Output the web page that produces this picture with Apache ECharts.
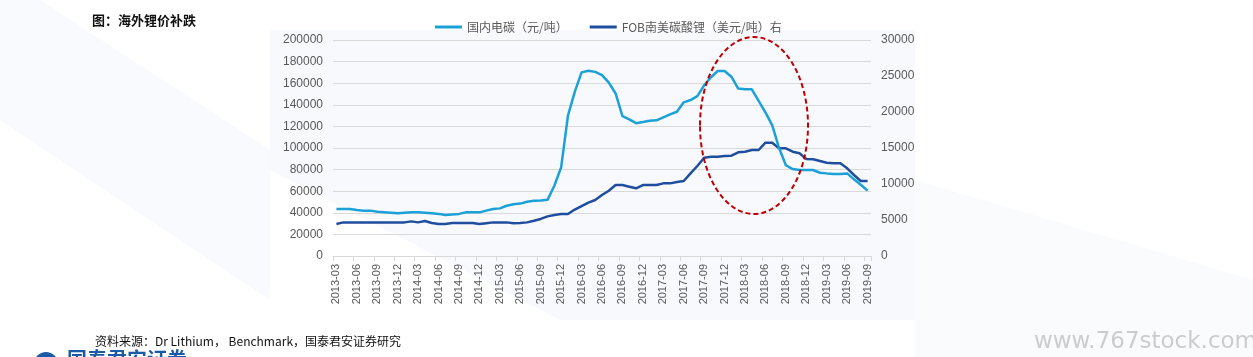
<!DOCTYPE html>
<html>
<head>
<meta charset="utf-8">
<script src="https://cdn.jsdelivr.net/npm/echarts@6/dist/echarts.min.js"></script>
<style>
html,body{margin:0;padding:0;background:#ffffff;}
#chart{width:1253px;height:357px;}
</style>
</head>
<body>
<div id="chart"></div>
<script>
// Monthly categories 2013-03 .. 2019-09
const months = [
'2013-03','2013-04','2013-05','2013-06','2013-07','2013-08','2013-09','2013-10','2013-11','2013-12',
'2014-01','2014-02','2014-03','2014-04','2014-05','2014-06','2014-07','2014-08','2014-09','2014-10','2014-11','2014-12',
'2015-01','2015-02','2015-03','2015-04','2015-05','2015-06','2015-07','2015-08','2015-09','2015-10','2015-11','2015-12',
'2016-01','2016-02','2016-03','2016-04','2016-05','2016-06','2016-07','2016-08','2016-09','2016-10','2016-11','2016-12',
'2017-01','2017-02','2017-03','2017-04','2017-05','2017-06','2017-07','2017-08','2017-09','2017-10','2017-11','2017-12',
'2018-01','2018-02','2018-03','2018-04','2018-05','2018-06','2018-07','2018-08','2018-09','2018-10','2018-11','2018-12',
'2019-01','2019-02','2019-03','2019-04','2019-05','2019-06','2019-07','2019-08','2019-09'
];

// 国内电碳（元/吨） - left axis
const domesticCarbonate = [
43500,43500,43500,42500,42000,42000,41000,40500,40000,39500,
40000,40400,40400,40000,39500,39000,38000,38500,39000,40400,40400,40400,
42000,43500,44100,46500,48000,48500,50300,51200,51500,52000,65000,82000,
130000,152000,170000,171500,170500,167500,160500,150500,129500,126500,123000,124000,
125300,125600,128400,131200,133600,142300,144400,148000,158000,165500,171300,171300,
166000,155000,154300,154300,143600,133000,121000,100000,84000,80500,79600,79600,
79600,77100,76500,76000,76000,76500,71000,66000,60500
];

// FOB南美碳酸锂（美元/吨） - right axis
const fobSouthAmerica = [
4440,4670,4670,4670,4670,4670,4670,4670,4670,4670,
4670,4810,4670,4860,4580,4440,4440,4580,4580,4580,4580,4440,
4560,4670,4670,4670,4540,4600,4670,4900,5150,5500,5700,5830,
5830,6450,6940,7410,7780,8470,9070,9860,9860,9630,9400,9860,
9860,9860,10090,10090,10280,10420,11480,12500,13650,13790,13800,13900,
13930,14400,14490,14720,14720,15740,15740,14950,14950,14490,14260,13470,
13430,13200,12960,12870,12870,12180,11250,10420,10420
];

const leftTicks = {min:0, max:200000, interval:20000};
const rightTicks = {min:0, max:30000, interval:5000};

const seriesNames = ['国内电碳（元/吨）','FOB南美碳酸锂（美元/吨）右'];
const colors = ['#1ba1d8','#1f4e9f'];

const chart = echarts.init(document.getElementById('chart'), null, {renderer:'canvas'});
const numFont = 'Liberation Sans, Arial, sans-serif';
const cjkFont = '"Noto Sans CJK SC", sans-serif';
const plain = v => String(v);

chart.setOption({
  backgroundColor:'#ffffff',
  animation:false,
  color: colors,
  graphic:[
    {type:'polygon', z:-10, silent:true, shape:{points:[[0,0],[40,0],[270,150],[270,300],[0,120]]}, style:{fill:'#f8fafd'}},
    {type:'polygon', z:-10, silent:true, shape:{points:[[270,30],[915,30],[915,320],[560,320],[270,170]]}, style:{fill:'#f7f9fd'}},
    {type:'polygon', z:-10, silent:true, shape:{points:[[915,180],[1253,280],[1253,357],[915,357]]}, style:{fill:'#f9fbfd'}},
    {type:'text', left:92, top:14, silent:true, style:{text:'图：海外锂价补跌', font:'bold 13px "Noto Sans CJK SC", sans-serif', fill:'#111111'}},
    {type:'text', left:95, top:335, silent:true, style:{text:'资料来源：Dr Lithium， Benchmark，国泰君安证券研究', font:'12px "Noto Sans CJK SC", sans-serif', fill:'#111111'}},
    {type:'circle', silent:true, shape:{cx:46, cy:364, r:12}, style:{fill:'#1a5aa6'}},
    {type:'text', left:67, top:349, silent:true, style:{text:'国泰君安证券', font:'bold 20px "Noto Sans CJK SC", sans-serif', fill:'#1a5aa6'}},
    {type:'text', left:1034, top:331, silent:true, style:{text:'www.767stock.com', font:'23px "DejaVu Sans", sans-serif', fill:'#cccccc'}},
    {type:'ellipse', silent:true, z:100, shape:{cx:754, cy:125.5, rx:54, ry:88.5}, style:{fill:'none', stroke:'#c00000', lineWidth:2, lineDash:[5,3]}}
  ],
  legend:{
    top:16, left:430,
    itemWidth:27, itemHeight:3, itemGap:22,
    icon:'rect',
    textStyle:{color:'#595959', fontSize:12, fontFamily:cjkFont},
    data: seriesNames
  },
  grid:{left:333, right:382, top:40, bottom:101, containLabel:false},
  xAxis:{
    type:'category', data: months, boundaryGap:true,
    axisLine:{show:true, lineStyle:{color:'#d9d9d9'}},
    axisTick:{show:true, interval:2, length:5, lineStyle:{color:'#d9d9d9'}},
    axisLabel:{interval:2, rotate:90, color:'#595959', fontSize:11, fontFamily:numFont, margin:8}
  },
  yAxis:[
    {type:'value', min:leftTicks.min, max:leftTicks.max, interval:leftTicks.interval,
     axisLine:{show:false}, axisTick:{show:false},
     splitLine:{show:true, lineStyle:{color:'#d9d9d9', width:1}},
     axisLabel:{color:'#595959', fontSize:12, fontFamily:numFont, margin:10, formatter:plain}},
    {type:'value', min:rightTicks.min, max:rightTicks.max, interval:rightTicks.interval,
     axisLine:{show:false}, axisTick:{show:false}, splitLine:{show:false},
     axisLabel:{color:'#595959', fontSize:12, fontFamily:numFont, margin:10, formatter:plain}}
  ],
  series:[
    {name:seriesNames[0], type:'line', yAxisIndex:0, data:domesticCarbonate, symbol:'none', lineStyle:{width:2.5, color:colors[0]}, itemStyle:{color:colors[0]}, z:3},
    {name:seriesNames[1], type:'line', yAxisIndex:1, data:fobSouthAmerica, symbol:'none', lineStyle:{width:2.5, color:colors[1]}, itemStyle:{color:colors[1]}, z:2}
  ]
});
</script>
</body>
</html>
